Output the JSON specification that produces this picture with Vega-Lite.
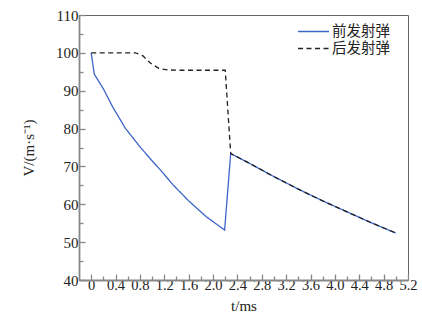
{
  "$schema": "https://vega.github.io/schema/vega-lite/v6.json",
  "width": 329,
  "height": 265,
  "autosize": "none",
  "padding": {"left": 79, "top": 15, "right": 14, "bottom": 36},
  "background": "white",
  "config": {
    "view": {"stroke": "#666", "strokeWidth": 1},
    "font": "Times New Roman, Liberation Serif, serif"
  },
  "data": {
    "values": [
      {"t": 0, "v": 100, "s": "前发射弹"},
      {"t": 0.05, "v": 94.4, "s": "前发射弹"},
      {"t": 0.2, "v": 90.5, "s": "前发射弹"},
      {"t": 0.35, "v": 85.8, "s": "前发射弹"},
      {"t": 0.56, "v": 80.1, "s": "前发射弹"},
      {"t": 0.8, "v": 75.2, "s": "前发射弹"},
      {"t": 0.96, "v": 72.2, "s": "前发射弹"},
      {"t": 1.15, "v": 68.8, "s": "前发射弹"},
      {"t": 1.34, "v": 65.2, "s": "前发射弹"},
      {"t": 1.6, "v": 60.9, "s": "前发射弹"},
      {"t": 1.89, "v": 56.7, "s": "前发射弹"},
      {"t": 2.19, "v": 53.2, "s": "前发射弹"},
      {"t": 2.29, "v": 73.4, "s": "前发射弹"},
      {"t": 2.6, "v": 70.8, "s": "前发射弹"},
      {"t": 3.0, "v": 67.3, "s": "前发射弹"},
      {"t": 3.4, "v": 64.0, "s": "前发射弹"},
      {"t": 3.8, "v": 60.9, "s": "前发射弹"},
      {"t": 4.2, "v": 58.0, "s": "前发射弹"},
      {"t": 4.6, "v": 55.1, "s": "前发射弹"},
      {"t": 5.0, "v": 52.4, "s": "前发射弹"},
      {"t": 0, "v": 100, "s": "后发射弹"},
      {"t": 0.73, "v": 100, "s": "后发射弹"},
      {"t": 0.85, "v": 99.2, "s": "后发射弹"},
      {"t": 0.97, "v": 97.3, "s": "后发射弹"},
      {"t": 1.11, "v": 95.9, "s": "后发射弹"},
      {"t": 1.25, "v": 95.5, "s": "后发射弹"},
      {"t": 1.44, "v": 95.4, "s": "后发射弹"},
      {"t": 2.2, "v": 95.4, "s": "后发射弹"},
      {"t": 2.29, "v": 73.4, "s": "后发射弹"},
      {"t": 2.6, "v": 70.8, "s": "后发射弹"},
      {"t": 3.0, "v": 67.3, "s": "后发射弹"},
      {"t": 3.4, "v": 64.0, "s": "后发射弹"},
      {"t": 3.8, "v": 60.9, "s": "后发射弹"},
      {"t": 4.2, "v": 58.0, "s": "后发射弹"},
      {"t": 4.6, "v": 55.1, "s": "后发射弹"},
      {"t": 5.0, "v": 52.4, "s": "后发射弹"}
    ]
  },
  "mark": {"type": "line", "strokeWidth": 1.3},
  "encoding": {
    "x": {
      "field": "t",
      "type": "quantitative",
      "scale": {"domain": [-0.2, 5.2], "nice": false, "zero": false},
      "axis": {
        "title": "t/ms",
        "titleFont": "Times New Roman, Liberation Serif, serif",
        "titleFontSize": 15,
        "titleFontWeight": "normal",
        "titleColor": "#222",
        "titlePadding": 5,
        "values": [0, 0.2, 0.4, 0.6, 0.8, 1, 1.2, 1.4, 1.6, 1.8, 2, 2.2, 2.4, 2.6, 2.8, 3, 3.2, 3.4, 3.6, 3.8, 4, 4.2, 4.4, 4.6, 4.8, 5, 5.2],
        "labelExpr": "round(datum.value*10) % 4 == 0 ? (datum.value == 0 ? '0' : format(datum.value, '.1f')) : ''",
        "labelFont": "Times New Roman, Liberation Serif, serif",
        "labelFontSize": 14.5,
        "labelColor": "#222",
        "labelOverlap": false,
        "labelBound": false,
        "labelFlush": false,
        "labelPadding": 4,
        "tickSize": {"condition": {"test": "round(datum.value*10) % 4 == 0", "value": -6}, "value": -4},
        "tickColor": "#888",
        "tickWidth": 1.3,
        "domainColor": "#888",
        "domainWidth": 1.8,
        "grid": false
      }
    },
    "y": {
      "field": "v",
      "type": "quantitative",
      "scale": {"domain": [40, 110], "nice": false, "zero": false},
      "axis": {
        "title": "V/(m·s⁻¹)",
        "titleFont": "Times New Roman, Liberation Serif, serif",
        "titleFontSize": 15,
        "titleFontWeight": "normal",
        "titleColor": "#222",
        "titlePadding": 19,
        "values": [40, 45, 50, 55, 60, 65, 70, 75, 80, 85, 90, 95, 100, 105, 110],
        "labelExpr": "datum.value % 10 == 0 ? datum.label : ''",
        "labelFont": "Times New Roman, Liberation Serif, serif",
        "labelFontSize": 15,
        "labelColor": "#222",
        "labelOverlap": false,
        "labelPadding": 7,
        "tickSize": {"condition": {"test": "datum.value % 10 == 0", "value": -6}, "value": -4},
        "tickColor": "#888",
        "tickWidth": 1.3,
        "domainColor": "#888",
        "domainWidth": 1.8,
        "grid": false
      }
    },
    "color": {
      "field": "s",
      "type": "nominal",
      "scale": {"domain": ["前发射弹", "后发射弹"], "range": ["#3d64c8", "#222222"]},
      "legend": {
        "title": null,
        "orient": "none",
        "legendX": 226,
        "legendY": 8,
        "symbolType": "M-2,0H2",
        "symbolSize": 240,
        "symbolStrokeWidth": 1.3,
        "symbolFillColor": "transparent",
        "labelFont": "Noto Sans CJK SC",
        "labelFontSize": 14.5,
        "labelColor": "#222",
        "labelOffset": 10,
        "rowPadding": 2
      }
    },
    "strokeDash": {
      "field": "s",
      "type": "nominal",
      "scale": {"domain": ["前发射弹", "后发射弹"], "range": [[1, 0], [5, 3.5]]},
      "legend": {
        "title": null,
        "orient": "none",
        "legendX": 226,
        "legendY": 8,
        "symbolType": "M-2,0H2",
        "symbolSize": 240,
        "symbolStrokeWidth": 1.3,
        "symbolFillColor": "transparent",
        "labelFont": "Noto Sans CJK SC",
        "labelFontSize": 14.5,
        "labelColor": "#222",
        "labelOffset": 10,
        "rowPadding": 2
      }
    }
  }
}
